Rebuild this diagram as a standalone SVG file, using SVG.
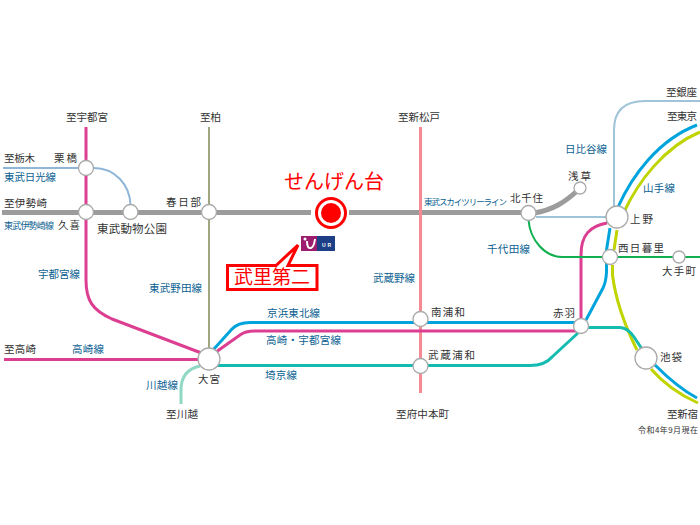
<svg xmlns="http://www.w3.org/2000/svg" width="700" height="525" viewBox="0 0 700 525">
<style>
text{font-family:"Noto Sans CJK JP","Liberation Sans",sans-serif;font-size:10.5px;fill:#333}
.l{fill:#0b5f92}
.c path{fill:none;stroke-width:3;stroke-linecap:butt;stroke-linejoin:round}
.st{fill:#fff;stroke:#aaa;stroke-width:1.3}
.pink{stroke:#dc3f92}.blue{stroke:#00a4dc}.lime{stroke:#bfd400}.teal{stroke:#14bbb0}.gray{stroke:#9c9c9c;stroke-width:5!important}
.thin{stroke:#8fb6d8;stroke-width:2!important}
</style>
<rect width="700" height="525" fill="#fff"/>
<g id="connectors" class="c">
<path class="gray" d="M2 212.500H311M349 212.500H530"/>
<path class="gray" d="M534 213C553 210 565 202 577 191"/>
<path style="stroke:#9fa57c;stroke-width:2" d="M209 127V352"/>
<path style="stroke:#f58a92" d="M420.500 127V393"/>
<path class="pink" d="M86 127V280C86 300 92 310 112 319L204 354"/>
<path class="pink" d="M4 359.500H200"/>
<path class="pink" d="M216 352L240 335Q245 331 255 331H578"/>
<path class="pink" d="M581 322V255C581 235 590 226 607 223"/>
<path class="blue" d="M213 350L232 329Q238 322.500 250 322.500H578"/>
<path class="blue" d="M586 320L603 288Q606 282 606.500 272V250L610 228"/>
<path class="blue" d="M618 207C632 176 658 140 697 125"/>
<path class="blue" d="M655 365C670 380 682 390 697 398"/>
<path class="lime" d="M624 212C638 182 664 147 700 132"/>
<path class="lime" d="M612.500 265V275C615 295 622 320 637 350"/>
<path class="lime" d="M651 369C665 385 680 395 698 403"/>
<path class="lime" d="M614 250L617 230"/>
<path class="teal" d="M212 365.500H530Q545 365.500 552 357L578 333"/>
<path class="teal" d="M588 327.500H620Q628 328 634 337L642 349"/>
<path style="stroke:#8fd8c4" d="M181 404V390Q181 370 200 366"/>
<path class="thin" d="M3 168H80M94 168C115 168 130 185 130.500 205"/>
<path class="thin" style="stroke:#9fc3d8" d="M536 217H606M614 207V130Q614 101 645 101H700"/>
<path style="stroke:#10b050;stroke-width:2" d="M528.500 220C530 240 545 257 562 257H700"/>
</g>
<g id="station-kurihashi"><circle class="st" cx="86" cy="168" r="7.500"/><text x="54" y="162" textLength="23">栗橋</text></g>
<g id="station-kuki"><circle class="st" cx="86" cy="212" r="7.500"/><text x="58" y="229" textLength="22">久喜</text></g>
<g id="station-tobu-dobutsu-koen"><circle class="st" cx="130.500" cy="212" r="7.500"/><text x="97" y="233" textLength="70" style="font-size:11.500px">東武動物公園</text></g>
<g id="station-kasukabe"><circle class="st" cx="209" cy="212" r="7.500"/><text x="166" y="206" textLength="35">春日部</text></g>
<g id="station-sengendai">
<circle cx="331" cy="213" r="14.500" fill="#fff" stroke="#f00" stroke-width="3"/><circle cx="331" cy="213" r="10" fill="#f00"/>
<text x="284" y="189" textLength="100" style="font-size:20px;fill:#f00">せんげん台</text></g>
<g id="station-kitasenju"><circle class="st" cx="528.500" cy="213" r="7.500"/><text x="510" y="202" textLength="33">北千住</text></g>
<g id="station-asakusa"><circle class="st" cx="580" cy="188" r="6"/><text x="568" y="180" textLength="23">浅草</text></g>
<g id="station-ueno"><circle class="st" cx="617" cy="217" r="11"/><text x="630" y="223" textLength="23">上野</text></g>
<g id="station-nishi-nippori"><circle class="st" cx="610" cy="257" r="7.500"/><text x="618" y="252" textLength="46">西日暮里</text></g>
<g id="station-otemachi"><circle class="st" cx="679" cy="257" r="6"/><text x="662" y="275" textLength="34">大手町</text></g>
<g id="station-omiya"><circle class="st" cx="209" cy="359" r="11"/><text x="198" y="383" textLength="22">大宮</text></g>
<g id="station-minami-urawa"><circle class="st" cx="420.500" cy="319" r="7.500"/><text x="431" y="316" textLength="34">南浦和</text></g>
<g id="station-musashi-urawa"><circle class="st" cx="420.500" cy="366" r="7.500"/><text x="428" y="359" textLength="47">武蔵浦和</text></g>
<g id="station-akabane"><circle class="st" cx="581" cy="326" r="7.500"/><text x="553" y="317" textLength="22">赤羽</text></g>
<g id="station-ikebukuro"><circle class="st" cx="646" cy="358" r="11"/><text x="660" y="361" textLength="22">池袋</text></g>
<g id="logo-ur">
<rect x="301" y="236" width="16" height="15" fill="#9c1c6e"/><rect x="317" y="236" width="18" height="15" fill="#1c3f86"/>
<path d="M307 241Q307 249 311 248Q314 247 315 239" fill="none" stroke="#fff" stroke-width="2"/><circle cx="305" cy="239" r="1.500" fill="#fff"/>
<text x="322" y="246.500" textLength="9" style="font-size:5px;fill:#fff;font-family:'Liberation Sans',sans-serif;font-weight:bold">UR</text></g>
<g id="callout-takesato">
<path d="M227.500 265.500H276L298 245L288 265.500H317V289.500H227.500Z" fill="#fff" stroke="#f00" stroke-width="3"/>
<text x="234" y="284" textLength="76" style="font-size:19px;fill:#f00">武里第二</text></g>
<g id="labels">
<text x="66" y="121" textLength="42">至宇都宮</text>
<text x="200" y="121" textLength="21">至柏</text>
<text x="398" y="121" textLength="42">至新松戸</text>
<text x="666" y="96" textLength="31">至銀座</text>
<text x="667" y="120" textLength="30">至東京</text>
<text x="4" y="162" textLength="31">至栃木</text>
<text x="4" y="207" textLength="43">至伊勢崎</text>
<text x="4" y="353" textLength="32">至高崎</text>
<text x="166" y="418" textLength="32">至川越</text>
<text x="396" y="418" textLength="53">至府中本町</text>
<text x="667" y="418" textLength="31">至新宿</text>
<text x="638" y="433" textLength="60" style="font-size:8px">令和4年9月現在</text>
<text class="l" x="4" y="181" textLength="52">東武日光線</text>
<text class="l" x="4" y="229" textLength="50" style="font-size:9px">東武伊勢崎線</text>
<text class="l" x="424" y="205" textLength="83" style="font-size:8.500px">東武スカイツリーライン</text>
<text class="l" x="565" y="153" textLength="42">日比谷線</text>
<text class="l" x="643" y="192" textLength="32">山手線</text>
<text class="l" x="487" y="253" textLength="43">千代田線</text>
<text class="l" x="38" y="278" textLength="42">宇都宮線</text>
<text class="l" x="149" y="292" textLength="53">東武野田線</text>
<text class="l" x="373" y="282" textLength="42">武蔵野線</text>
<text class="l" x="267" y="317" textLength="53">京浜東北線</text>
<text class="l" x="266" y="344" textLength="75">高崎・宇都宮線</text>
<text class="l" x="72" y="353" textLength="32">高崎線</text>
<text class="l" x="265" y="379" textLength="32">埼京線</text>
<text class="l" x="146" y="389" textLength="32">川越線</text>
</g>
</svg>
